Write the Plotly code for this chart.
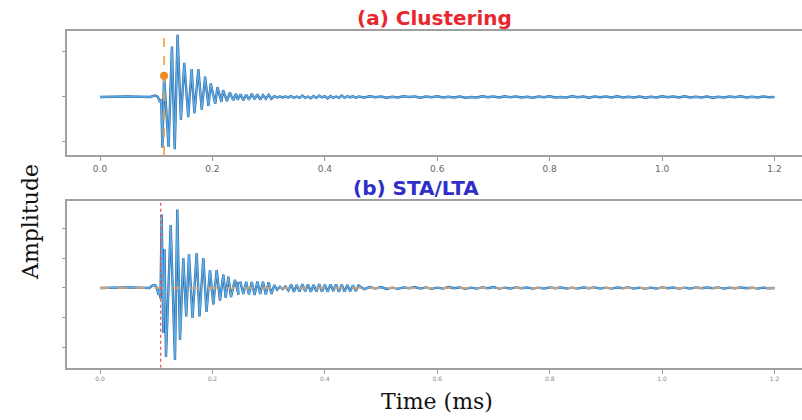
import numpy as np
import plotly.graph_objects as go

# ---------------- panel (a): clustering pick ----------------
# quiet lead-in before the arrival
t_a_pre = [0.0, 0.05, 0.089, 0.098, 0.103, 0.107, 0.109]
a_a_pre = [0.0, 0.01, 0.0, 0.03, 0.0, -0.12, -0.05]
# main burst: successive extremes of the wave train
t_a_burst = [0.111, 0.114, 0.122, 0.128, 0.133, 0.138, 0.144, 0.150, 0.157,
             0.163, 0.168, 0.175, 0.181, 0.187, 0.193, 0.197, 0.205, 0.209,
             0.216, 0.219, 0.226, 0.231, 0.237, 0.242]
a_a_burst = [-1.13, 0.47, -1.11, 1.12, -1.16, 1.38, -0.51, 0.76, -0.45,
             0.62, -0.36, 0.62, -0.28, 0.45, -0.20, 0.30, -0.15, 0.22,
             -0.11, 0.15, -0.09, 0.10, -0.07, 0.07]
# coda, sampled every 0.005 ms from 0.245 ms
coda_t0, coda_dt = 0.245, 0.005
a_a_coda = [-0.06, 0.06, -0.07, 0.05, -0.06, 0.07, -0.05, 0.06, -0.06, 0.04,
            -0.04, 0.05, -0.04, 0.02, -0.01, 0.01, -0.01, 0.01, -0.01, 0.02,
            -0.02, 0.01, -0.02, 0.03, -0.02, 0.01, -0.03, 0.02, -0.02, 0.03,
            -0.01, 0.02, -0.03, 0.02, -0.02, 0.01, -0.02, 0.03, -0.02, 0.02,
            -0.01, 0.02, -0.02, 0.01]
# background noise, sampled every 0.01 ms from 0.47 ms
noise_t0, noise_dt = 0.47, 0.01
a_a_noise = [-0.01, 0.015, -0.005, 0.01, -0.015, 0.005, -0.01, 0.015, 0.0, 0.01,
             -0.015, 0.01, -0.005, 0.015, -0.01, 0.005, -0.01, 0.01, -0.015, 0.0,
             -0.01, 0.015, -0.005, 0.01, -0.01, 0.015, -0.005, 0.01, -0.01, 0.005,
             -0.015, 0.01, -0.005, 0.015, -0.01, 0.0, -0.01, 0.015, -0.005, 0.01,
             -0.015, 0.01, -0.005, 0.01, -0.01, 0.015, -0.01, 0.005, -0.01, 0.01,
             -0.015, 0.005, -0.01, 0.015, -0.005, 0.01, -0.01, 0.015, -0.01, 0.005,
             -0.01, 0.01, -0.015, 0.005, -0.01, 0.01, -0.005, 0.015, -0.01, 0.005,
             -0.01, 0.01, -0.005, 0.0]
pick_a_t = 0.114
pick_a_amp = 0.47

# ---------------- panel (b): STA/LTA pick ----------------
t_b_pre = [0.0, 0.05, 0.088, 0.093, 0.098, 0.101, 0.104, 0.106]
a_b_pre = [0.0, 0.02, 0.0, 0.08, 0.10, 0.02, -0.23, 0.0]
t_b_burst = [0.1076, 0.1098, 0.1126, 0.1147, 0.1174, 0.1258, 0.1334, 0.1375,
             0.1423, 0.1482, 0.1534, 0.1583, 0.1646, 0.1720, 0.1770, 0.1838,
             0.1895, 0.1957, 0.2016, 0.2076, 0.2135, 0.2194, 0.2236, 0.2283,
             0.2330, 0.2400, 0.2464]
a_b_burst = [-0.35, 2.45, -1.50, 1.30, -2.30, 2.10, -2.40, 2.62,
             -1.73, 1.00, -0.95, 1.12, -1.00, 1.16, -0.95, 1.00,
             -0.80, 0.60, -0.55, 0.60, -0.42, 0.45, -0.33, 0.38,
             -0.30, 0.27, -0.22]
a_b_coda = [0.16, 0.18, -0.20, 0.21, -0.22, 0.20, -0.23, 0.22, -0.20, 0.21,
            -0.22, 0.19, -0.20, 0.10, -0.06, 0.04, -0.03, 0.05, -0.08, 0.12,
            -0.13, 0.10, -0.12, 0.13, -0.11, 0.12, -0.13, 0.10, -0.12, 0.13,
            -0.12, 0.11, -0.13, 0.12, -0.10, 0.12, -0.13, 0.11, -0.12, 0.10,
            -0.11, 0.09, -0.10, 0.08]
a_b_noise = [-0.04, 0.03, -0.02, 0.03, -0.03, 0.01, -0.03, 0.02, -0.01, 0.03,
             -0.02, 0.02, -0.03, 0.01, -0.02, 0.03, -0.01, 0.02, -0.03, 0.01,
             -0.02, 0.02, -0.01, 0.03, -0.02, 0.01, -0.02, 0.02, -0.01, 0.02,
             -0.02, 0.01, -0.02, 0.02, -0.01, 0.02, -0.02, 0.01, -0.02, 0.02,
             -0.01, 0.02, -0.02, 0.01, -0.02, 0.02, -0.01, 0.02, -0.02, 0.01,
             -0.02, 0.01, -0.02, 0.02, -0.01, 0.02, -0.02, 0.01, -0.02, 0.02,
             -0.01, 0.02, -0.01, 0.02, -0.02, 0.01, -0.01, 0.02, -0.01, 0.01,
             -0.02, 0.01, -0.01, 0.0]
pick_b_t = 0.108

# axis ticks
x_ticks = [0.0, 0.2, 0.4, 0.6, 0.8, 1.0, 1.2]
x_tick_text = ["0.0", "0.2", "0.4", "0.6", "0.8", "1.0", "1.2"]
y_ticks_a = [-1, 0, 1]
y_ticks_b = [-2, -1, 0, 1, 2]
t_end = 1.2


def assemble(t_pre, a_pre, t_burst, a_burst, a_coda, a_noise):
    t_coda = [round(coda_t0 + i * coda_dt, 4) for i in range(len(a_coda))]
    t_noise = [round(noise_t0 + i * noise_dt, 4) for i in range(len(a_noise))]
    t = list(t_pre) + list(t_burst) + t_coda + t_noise
    a = list(a_pre) + list(a_burst) + list(a_coda) + list(a_noise)
    return t, a


ta, aa = assemble(t_a_pre, a_a_pre, t_a_burst, a_a_burst, a_a_coda, a_a_noise)
tb, ab = assemble(t_b_pre, a_b_pre, t_b_burst, a_b_burst, a_b_coda, a_b_noise)

DARK = "#2a6aa8"
LIGHT = "#62ade4"

fig = go.Figure()
# waveform (a): darker under-stroke with lighter core
fig.add_trace(go.Scatter(x=ta, y=aa, mode="lines", line=dict(color=DARK, width=2.4),
                         xaxis="x", yaxis="y", hoverinfo="skip"))
fig.add_trace(go.Scatter(x=ta, y=aa, mode="lines", line=dict(color=LIGHT, width=1.3),
                         xaxis="x", yaxis="y"))
fig.add_trace(go.Scatter(x=[pick_a_t, pick_a_t], y=[-1.289, 1.473], mode="lines",
                         line=dict(color="#f39a3c", width=1.6, dash="dash"),
                         xaxis="x", yaxis="y"))
fig.add_trace(go.Scatter(x=[pick_a_t], y=[pick_a_amp], mode="markers",
                         marker=dict(color="#f08a24", size=8),
                         xaxis="x", yaxis="y"))

# waveform (b)
fig.add_trace(go.Scatter(x=tb, y=ab, mode="lines", line=dict(color=DARK, width=2.4),
                         xaxis="x2", yaxis="y2", hoverinfo="skip"))
fig.add_trace(go.Scatter(x=tb, y=ab, mode="lines", line=dict(color=LIGHT, width=1.3),
                         xaxis="x2", yaxis="y2"))
fig.add_trace(go.Scatter(x=[0, t_end], y=[0, 0], mode="lines",
                         line=dict(color="#e3a468", width=1.3, dash="dash"),
                         xaxis="x2", yaxis="y2"))
fig.add_trace(go.Scatter(x=[pick_b_t, pick_b_t], y=[-2.657, 2.91], mode="lines",
                         line=dict(color="#ec4a4a", width=1.2, dash="dot"),
                         xaxis="x2", yaxis="y2"))

x_range = [-0.0587, 1.2489]
common_x = dict(range=x_range, tickvals=x_ticks, ticktext=x_tick_text,
                ticks="outside", ticklen=4, tickcolor="#9a9a9a",
                showline=True, linecolor="#a0a0a0", linewidth=1.6, mirror=True,
                showgrid=False, zeroline=False)
common_y = dict(showticklabels=False, ticks="outside", ticklen=3, tickcolor="#9a9a9a",
                showline=True, linecolor="#a0a0a0", linewidth=1.6, mirror=False,
                showgrid=False, zeroline=False)

fig.update_layout(
    width=802, height=420,
    margin=dict(l=0, r=0, t=0, b=0),
    paper_bgcolor="white", plot_bgcolor="white",
    showlegend=False,
    xaxis=dict(domain=[67 / 802, 1.0], anchor="y",
               tickfont=dict(family="DejaVu Sans", size=9, color="#666666"),
               **common_x),
    yaxis=dict(domain=[1 - 155 / 420, 1 - 30.7 / 420], anchor="x",
               range=[-1.289, 1.473], tickvals=y_ticks_a, **common_y),
    xaxis2=dict(domain=[67 / 802, 1.0], anchor="y2",
                tickfont=dict(family="DejaVu Sans", size=6, color="#888888"),
                **common_x),
    yaxis2=dict(domain=[1 - 367.7 / 420, 1 - 200.7 / 420], anchor="x2",
                range=[-2.657, 2.91], tickvals=y_ticks_b, **common_y),
    annotations=[
        dict(text="<b>(a) Clustering</b>", xref="paper", yref="paper",
             x=434 / 802, y=1 - 18 / 420, showarrow=False,
             xanchor="center", yanchor="middle",
             font=dict(family="DejaVu Sans", size=20, color="#e8262e")),
        dict(text="<b>(b) STA/LTA</b>", xref="paper", yref="paper",
             x=416 / 802, y=1 - 188 / 420, showarrow=False,
             xanchor="center", yanchor="middle",
             font=dict(family="DejaVu Sans", size=20, color="#2f2fc8")),
        dict(text="Time (ms)", xref="paper", yref="paper",
             x=437 / 802, y=1 - 401 / 420, showarrow=False,
             xanchor="center", yanchor="middle",
             font=dict(family="DejaVu Serif", size=22, color="#111111")),
        dict(text="Amplitude", xref="paper", yref="paper", textangle=-90,
             x=30 / 802, y=1 - 222 / 420, showarrow=False,
             xanchor="center", yanchor="middle",
             font=dict(family="DejaVu Serif", size=22, color="#111111")),
    ],
)

fig.write_html("out.html")
